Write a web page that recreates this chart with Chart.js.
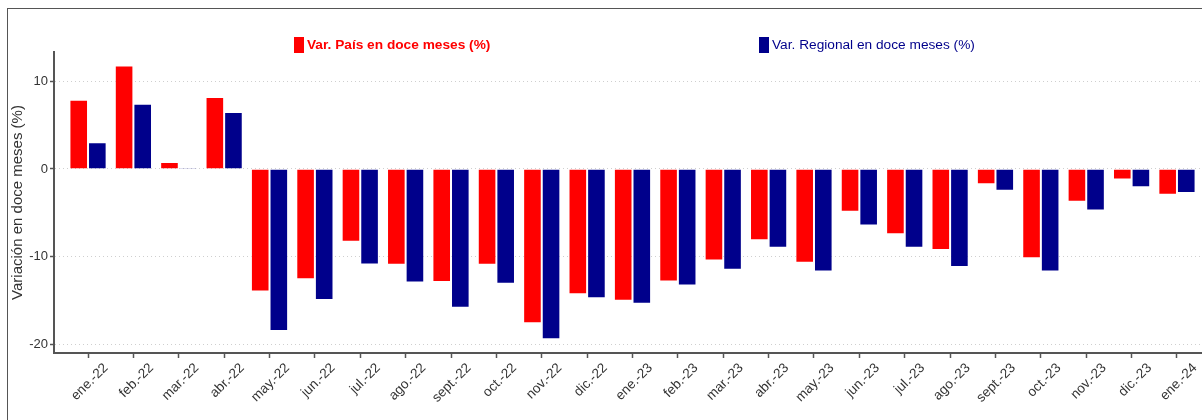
<!DOCTYPE html>
<html>
<head>
<meta charset="utf-8">
<script src="https://cdn.jsdelivr.net/npm/chart.js@4.4.1/dist/chart.umd.min.js"></script>
<style>
  html, body { margin: 0; padding: 0; background: #fff; overflow: hidden; }
  #wrap { position: relative; width: 1202px; height: 420px; overflow: hidden; }
  #chart { position: absolute; left: 0; top: 0; }
  #frame { position: absolute; left: 7px; top: 8px; width: 2000px; height: 2000px; border: 1px solid #555; pointer-events: none; }
  .leg { position: absolute; top: 37px; height: 16px; line-height: 16px; font-family: "Liberation Sans", Arial, sans-serif; font-size: 13.7px; white-space: nowrap; }
  .leg span.box { position: absolute; left: 0; top: 0; width: 10px; height: 16px; }
  .leg span.txt { position: absolute; left: 13px; top: 0; }
</style>
</head>
<body>
<div id="wrap">
  <canvas id="chart" width="1215" height="420"></canvas>
  <div class="leg" style="left:294px"><span class="box" style="background:#ff0000"></span><span class="txt" style="color:#ff0000;font-weight:bold">Var. País en doce meses (%)</span></div>
  <div class="leg" style="left:759px"><span class="box" style="background:#00008b"></span><span class="txt" style="color:#00008b">Var. Regional en doce meses (%)</span></div>
  <div id="frame"></div>
</div>
<script>
// months shown on the x axis
const months = ["ene.-22", "feb.-22", "mar.-22", "abr.-22", "may.-22", "jun.-22", "jul.-22", "ago.-22",
    "sept.-22", "oct.-22", "nov.-22", "dic.-22", "ene.-23", "feb.-23", "mar.-23", "abr.-23", "may.-23",
    "jun.-23", "jul.-23", "ago.-23", "sept.-23", "oct.-23", "nov.-23", "dic.-23", "ene.-24"];

// country variation (red)
const varPais = [7.9, 11.8, 0.8, 8.2, -14.0, -12.6, -8.3, -10.95, -12.9, -10.95, -17.6, -14.3, -15.05,
    -12.85, -10.45, -8.15, -10.7, -4.9, -7.45, -9.25, -1.75, -10.2, -3.75, -1.2, -2.95];

// regional variation (blue)
const varRegional = [3.05, 7.45, 0.1, 6.5, -18.5, -14.95, -10.9, -12.95, -15.85, -13.1, -19.45, -14.75,
    -15.4, -13.3, -11.5, -9.0, -11.7, -6.45, -9.0, -11.2, -2.5, -11.7, -4.75, -2.1, -2.75];

const yTicks = [-20, -10, 0, 10];

const toPoints = (arr) => arr.map((v, i) => ({ x: i, y: v }));

const ctx = document.getElementById("chart").getContext("2d");
new Chart(ctx, {
    type: "bar",
    data: {
        datasets: [
            {
                label: "Var. País en doce meses (%)",
                data: toPoints(varPais),
                backgroundColor: "#ff0000",
                borderColor: "rgba(255,255,255,0.45)",
                borderWidth: 1,
                categoryPercentage: 0.82,
                barPercentage: 1.0,
            },
            {
                label: "Var. Regional en doce meses (%)",
                data: toPoints(varRegional),
                backgroundColor: "#00008b",
                borderColor: "rgba(255,255,255,0.45)",
                borderWidth: 1,
                categoryPercentage: 0.82,
                barPercentage: 1.0,
            },
        ],
    },
    options: {
        responsive: false,
        animation: false,
        devicePixelRatio: 1,
        layout: { padding: { top: 52, right: 4, left: 0, bottom: 0 } },
        plugins: {
            legend: { display: false },
            tooltip: { enabled: false },
        },
        scales: {
            x: {
                type: "linear",
                offset: false,
                min: -0.75,
                max: 24.75,
                afterBuildTicks: (scale) => {
                    scale.ticks = months.map((m, i) => ({ value: i }));
                },
                afterFit: (scale) => { scale.height = 67; },
                grid: {
                    offset: false,
                    drawOnChartArea: false,
                    drawTicks: true,
                    tickLength: 5,
                    tickColor: "#555",
                    tickWidth: 1.5,
                },
                border: { display: true, color: "#555", width: 2 },
                ticks: {
                    autoSkip: false,
                    minRotation: 45,
                    maxRotation: 45,
                    labelOffset: 18,
                    padding: 2,
                    color: "#333",
                    font: { family: "Liberation Sans", size: 13.5 },
                    callback: (value) => months[value],
                },
            },
            y: {
                min: -21.01,
                max: 13.35,
                afterBuildTicks: (scale) => {
                    scale.ticks = yTicks.map((v) => ({ value: v }));
                },
                afterFit: (scale) => { scale.width = 54; },
                grid: {
                    color: "#cfcfcf",
                    lineWidth: 1,
                    drawTicks: true,
                    tickLength: 4,
                    tickColor: "#555",
                    tickWidth: 1.5,
                    tickBorderDash: [],
                },
                border: { display: true, color: "#555", width: 2, dash: [1, 3] },
                ticks: {
                    padding: 2,
                    color: "#333",
                    font: { family: "Liberation Sans", size: 13 },
                },
                title: {
                    display: true,
                    text: "Variación en doce meses (%)",
                    color: "#333",
                    font: { family: "Liberation Sans", size: 15 },
                    padding: { top: 9, bottom: 0 },
                },
            },
        },
    },
});
</script>
</body>
</html>
